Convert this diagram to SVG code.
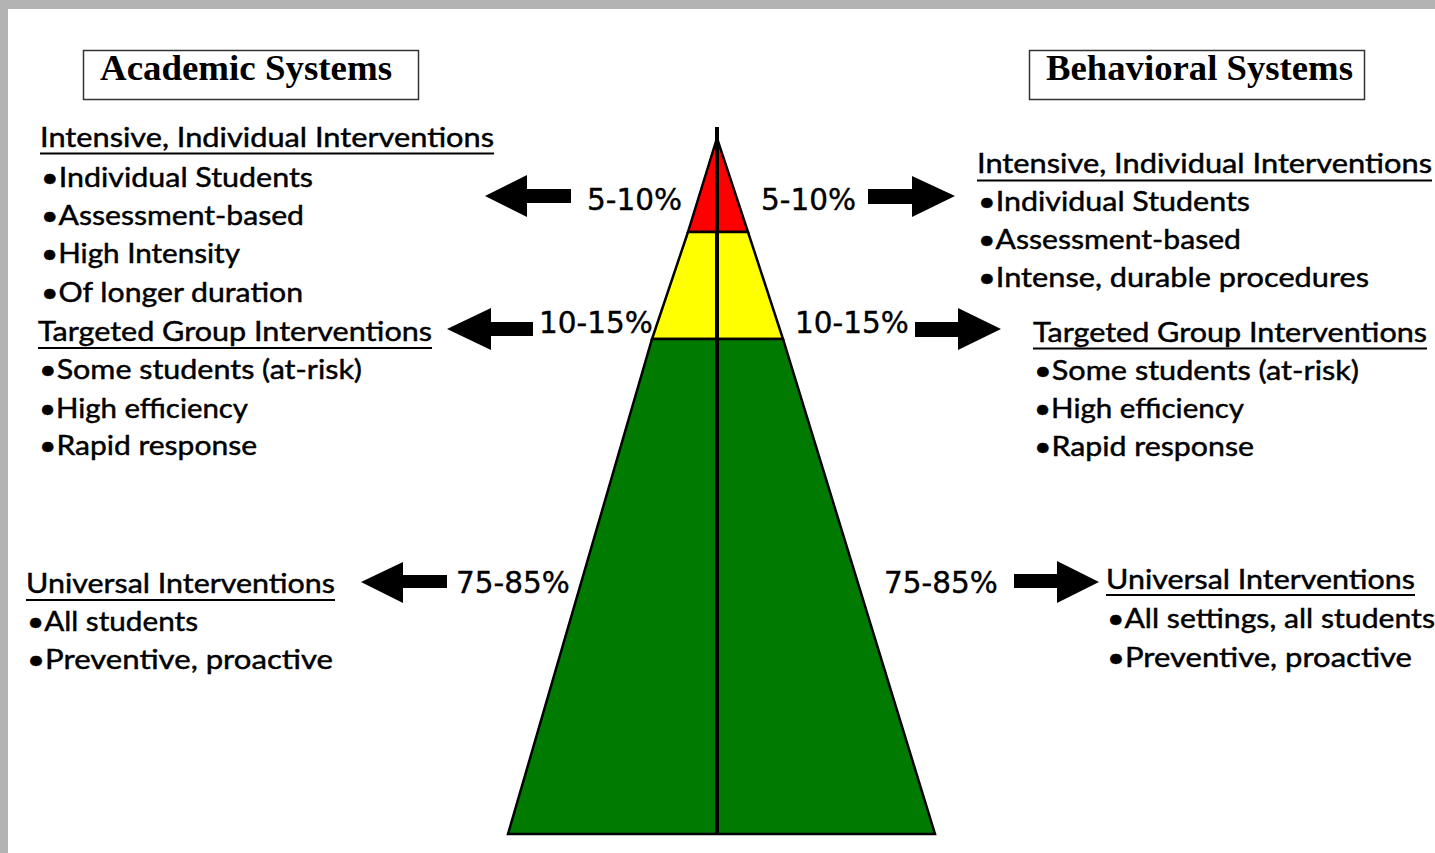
<svg xmlns="http://www.w3.org/2000/svg" width="1435" height="853" viewBox="0 0 1435 853">
<style>
.t{font-family:Lato,"Open Sans","DejaVu Sans",sans-serif;font-size:27px;fill:#000;stroke:#000;stroke-width:0.45}
.p{font-family:"DejaVu Sans",Verdana,sans-serif;font-size:29.5px;fill:#000;stroke:#000;stroke-width:0.4}
.h{font-family:"Liberation Serif","Times New Roman",serif;font-size:36px;font-weight:bold;fill:#000}
.u{stroke:#000;stroke-width:2}
.box{fill:#fff;stroke:#333;stroke-width:1.5}
.arr{fill:#000}
.tier{stroke:#000;stroke-width:2.5;stroke-linejoin:miter}
</style>
<rect x="0" y="0" width="1435" height="853" fill="#fff"/>
<rect x="0" y="0" width="1435" height="9" fill="#b3b3b3"/>
<rect x="0" y="0" width="8" height="853" fill="#b3b3b3"/>

<g id="academic-header">
<rect class="box" x="83.5" y="50.5" width="335" height="49"/>
<text class="h" x="100" y="80" textLength="292" lengthAdjust="spacingAndGlyphs">Academic Systems</text>
</g>
<g id="behavioral-header">
<rect class="box" x="1029.5" y="50.5" width="335" height="49"/>
<text class="h" x="1046" y="80" textLength="307" lengthAdjust="spacingAndGlyphs">Behavioral Systems</text>
</g>

<g id="pyramid">
<polygon class="tier" fill="#ff0000" points="717,138 688,232 748,232"/>
<polygon class="tier" fill="#ffff00" points="688,232 748,232 783,339 652,339"/>
<polygon class="tier" fill="#007a00" points="652,339 783,339 935,834 508,834"/>
<line x1="717" y1="127" x2="717" y2="835" stroke="#000" stroke-width="4"/>
</g>

<g id="connectors">
<polygon class="arr" points="485,196 527,175 527,189 571,189 571,203 527,203 527,217"/>
<polygon class="arr" points="447,329 491,308 491,322 533,322 533,336 491,336 491,350"/>
<polygon class="arr" points="361,582 403,562 403,575 447,575 447,588 403,588 403,603"/>
<polygon class="arr" points="955,196 912,176 912,189 868,189 868,204 912,204 912,217"/>
<polygon class="arr" points="1001,329 958,308 958,322 915,322 915,337 958,337 958,350"/>
<polygon class="arr" points="1099,582 1057,561 1057,574 1014,574 1014,588 1057,588 1057,603"/>
</g>

<g id="pct-labels">
<text class="p" x="587" y="210">5-10%</text>
<text class="p" x="761" y="210">5-10%</text>
<text class="p" x="539" y="333">10-15%</text>
<text class="p" x="795" y="333">10-15%</text>
<text class="p" x="456" y="593">75-85%</text>
<text class="p" x="884" y="593">75-85%</text>
</g>

<g id="academic-intensive">
<text class="t" x="40" y="147" textLength="454" lengthAdjust="spacingAndGlyphs">Intensive, Individual Interventions</text>
<line class="u" x1="40" y1="153.5" x2="494" y2="153.5"/>
<text class="t" x="41" y="187" textLength="272" lengthAdjust="spacingAndGlyphs">•Individual Students</text>
<text class="t" x="41" y="225" textLength="263" lengthAdjust="spacingAndGlyphs">•Assessment-based</text>
<text class="t" x="41" y="263" textLength="199" lengthAdjust="spacingAndGlyphs">•High Intensity</text>
<text class="t" x="41" y="302" textLength="262" lengthAdjust="spacingAndGlyphs">•Of longer duration</text>
</g>
<g id="academic-targeted">
<text class="t" x="38" y="341" textLength="394" lengthAdjust="spacingAndGlyphs">Targeted Group Interventions</text>
<line class="u" x1="38" y1="348" x2="432" y2="348"/>
<text class="t" x="39" y="379" textLength="323" lengthAdjust="spacingAndGlyphs">•Some students (at-risk)</text>
<text class="t" x="39" y="418" textLength="209" lengthAdjust="spacingAndGlyphs">•High efficiency</text>
<text class="t" x="39" y="455" textLength="218" lengthAdjust="spacingAndGlyphs">•Rapid response</text>
</g>
<g id="academic-universal">
<text class="t" x="26" y="593" textLength="309" lengthAdjust="spacingAndGlyphs">Universal Interventions</text>
<line class="u" x1="26" y1="600" x2="335" y2="600"/>
<text class="t" x="27" y="631" textLength="171" lengthAdjust="spacingAndGlyphs">•All students</text>
<text class="t" x="27" y="669" textLength="306" lengthAdjust="spacingAndGlyphs">•Preventive,  proactive</text>
</g>

<g id="behavioral-intensive">
<text class="t" x="977" y="173" textLength="455" lengthAdjust="spacingAndGlyphs">Intensive, Individual Interventions</text>
<line class="u" x1="977" y1="180.5" x2="1432" y2="180.5"/>
<text class="t" x="978" y="211" textLength="272" lengthAdjust="spacingAndGlyphs">•Individual Students</text>
<text class="t" x="978" y="249" textLength="263" lengthAdjust="spacingAndGlyphs">•Assessment-based</text>
<text class="t" x="978" y="287" textLength="391" lengthAdjust="spacingAndGlyphs">•Intense, durable procedures</text>
</g>
<g id="behavioral-targeted">
<text class="t" x="1033" y="342" textLength="394" lengthAdjust="spacingAndGlyphs">Targeted Group Interventions</text>
<line class="u" x1="1033" y1="348.5" x2="1427" y2="348.5"/>
<text class="t" x="1034" y="380" textLength="325" lengthAdjust="spacingAndGlyphs">•Some students (at-risk)</text>
<text class="t" x="1034" y="418" textLength="210" lengthAdjust="spacingAndGlyphs">•High efficiency</text>
<text class="t" x="1034" y="456" textLength="220" lengthAdjust="spacingAndGlyphs">•Rapid response</text>
</g>
<g id="behavioral-universal">
<text class="t" x="1106" y="589" textLength="309" lengthAdjust="spacingAndGlyphs">Universal Interventions</text>
<line class="u" x1="1106" y1="595" x2="1415" y2="595"/>
<text class="t" x="1107" y="628" textLength="328" lengthAdjust="spacingAndGlyphs">•All settings, all students</text>
<text class="t" x="1107" y="667" textLength="305" lengthAdjust="spacingAndGlyphs">•Preventive,  proactive</text>
</g>
</svg>
